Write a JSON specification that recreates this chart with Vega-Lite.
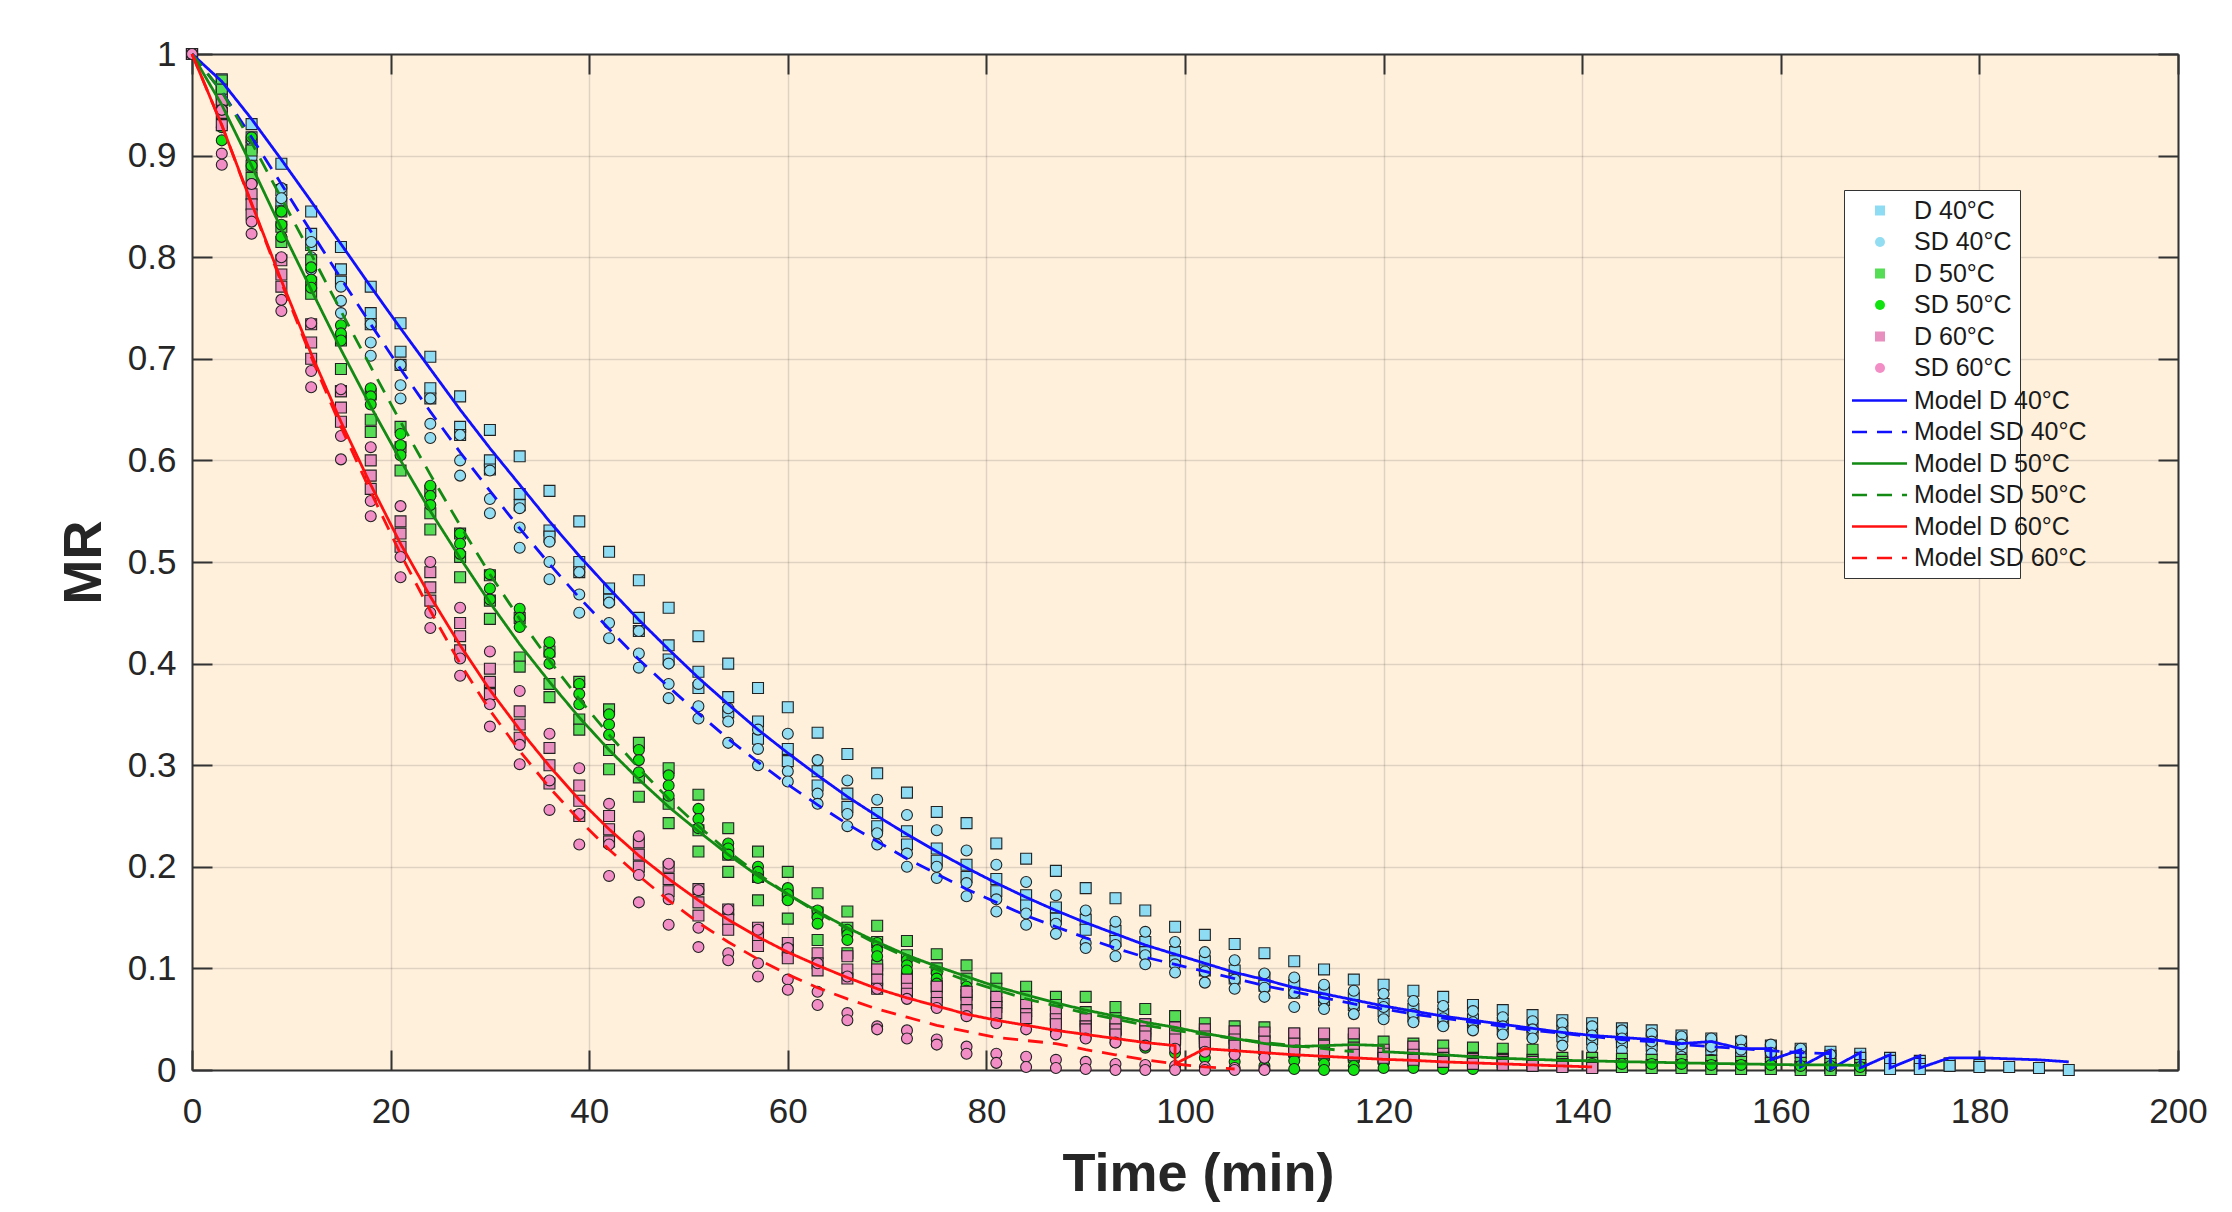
{
"$schema": "https://vega.github.io/schema/vega-lite/v6.json",
"width": 1986, "height": 1016,
"autosize": {"type": "none"},
"padding": {"left": 192, "top": 54, "right": 54, "bottom": 142},
"background": "#ffffff",
"config": {
  "view": {"fill": "#FEF0DB", "stroke": null},
  "axis": {"domainColor": "#333333", "domainWidth": 2, "tickColor": "#333333", "tickWidth": 2, "tickSize": -20,
    "labelFont": "Liberation Sans", "labelFontSize": 35, "labelColor": "#262626",
    "titleFont": "Liberation Sans", "titleFontSize": 54, "titleFontWeight": "bold", "titleColor": "#262626",
    "gridColor": "#000000", "gridOpacity": 0.12, "gridWidth": 1.5, "labelFlush": false, "labelOverlap": false},
  "axisX": {"labelPadding": 44, "titlePadding": 18},
  "axisY": {"labelPadding": 36, "titlePadding": 16}
},
"datasets": {
"pts": [
{"s":"D 40°C","t":0,"a":1,"b":1,"c":1},{"s":"D 40°C","t":3,"a":0.975,"b":0.968,"c":0.962},{"s":"D 40°C","t":6,"a":0.931,"b":0.918,"c":0.908},{"s":"D 40°C","t":9,"a":0.892,"b":0.866,"c":0.853},{"s":"D 40°C","t":12,"a":0.845,"b":0.823,"c":0.812},{"s":"D 40°C","t":15,"a":0.81,"b":0.788,"c":0.776},{"s":"D 40°C","t":18,"a":0.771,"b":0.745,"c":0.734},{"s":"D 40°C","t":21,"a":0.735,"b":0.707,"c":0.694},{"s":"D 40°C","t":24,"a":0.702,"b":0.671,"c":0.661},{"s":"D 40°C","t":27,"a":0.663,"b":0.633,"c":0.625},{"s":"D 40°C","t":30,"a":0.63,"b":0.6,"c":0.591},{"s":"D 40°C","t":33,"a":0.604,"b":0.567,"c":0.556},{"s":"D 40°C","t":36,"a":0.57,"b":0.531,"c":0.525},{"s":"D 40°C","t":39,"a":0.54,"b":0.5,"c":0.49},{"s":"D 40°C","t":42,"a":0.51,"b":0.474,"c":0.463},{"s":"D 40°C","t":45,"a":0.482,"b":0.445,"c":0.432},{"s":"D 40°C","t":48,"a":0.455,"b":0.418,"c":0.404},{"s":"D 40°C","t":51,"a":0.427,"b":0.392,"c":0.376},{"s":"D 40°C","t":54,"a":0.4,"b":0.367,"c":0.352},{"s":"D 40°C","t":57,"a":0.376,"b":0.343,"c":0.326},{"s":"D 40°C","t":60,"a":0.357,"b":0.316,"c":0.304},{"s":"D 40°C","t":63,"a":0.332,"b":0.294,"c":0.28},{"s":"D 40°C","t":66,"a":0.311,"b":0.272,"c":0.259},{"s":"D 40°C","t":69,"a":0.292,"b":0.253,"c":0.24},{"s":"D 40°C","t":72,"a":0.273,"b":0.235,"c":0.222},{"s":"D 40°C","t":75,"a":0.254,"b":0.218,"c":0.206},{"s":"D 40°C","t":78,"a":0.243,"b":0.202,"c":0.19},{"s":"D 40°C","t":81,"a":0.223,"b":0.188,"c":0.176},{"s":"D 40°C","t":84,"a":0.208,"b":0.172,"c":0.162},{"s":"D 40°C","t":87,"a":0.196,"b":0.16,"c":0.149},{"s":"D 40°C","t":90,"a":0.179,"b":0.148,"c":0.138},{"s":"D 40°C","t":93,"a":0.169,"b":0.137,"c":0.127},{"s":"D 40°C","t":96,"a":0.157,"b":0.126,"c":0.116},{"s":"D 40°C","t":99,"a":0.141,"b":0.116,"c":0.107},{"s":"D 40°C","t":102,"a":0.133,"b":0.107,"c":0.098},{"s":"D 40°C","t":105,"a":0.124,"b":0.098,"c":0.09},{"s":"D 40°C","t":108,"a":0.115,"b":0.091,"c":0.083},{"s":"D 40°C","t":111,"a":0.107,"b":0.084,"c":0.076},{"s":"D 40°C","t":114,"a":0.099,"b":0.077,"c":0.069},{"s":"D 40°C","t":117,"a":0.089,"b":0.071,"c":0.064},{"s":"D 40°C","t":120,"a":0.084,"b":0.065,"c":0.058},{"s":"D 40°C","t":123,"a":0.078,"b":0.06,"c":0.053},{"s":"D 40°C","t":126,"a":0.072,"b":0.055,"c":0.048},{"s":"D 40°C","t":129,"a":0.064,"b":0.05,"c":0.044},{"s":"D 40°C","t":132,"a":0.059,"b":0.046,"c":0.04},{"s":"D 40°C","t":135,"a":0.054,"b":0.042,"c":0.036},{"s":"D 40°C","t":138,"a":0.049,"b":0.038,"c":0.033},{"s":"D 40°C","t":141,"a":0.046,"b":0.035,"c":0.03},{"s":"D 40°C","t":144,"a":0.041,"b":0.032,"c":0.027},{"s":"D 40°C","t":147,"a":0.039,"b":0.029,"c":0.024},{"s":"D 40°C","t":150,"a":0.034,"b":0.027,"c":0.022},{"s":"D 40°C","t":153,"a":0.031,"b":0.024,"c":0.02},{"s":"D 40°C","t":156,"a":0.028,"b":0.022,"c":0.018},{"s":"D 40°C","t":159,"a":0.024,"b":0.02,"c":0.016},{"s":"D 40°C","t":162,"a":0.021,"b":0.017,"c":0.004},{"s":"D 40°C","t":165,"a":0.018,"b":0.014,"c":0.002},{"s":"D 40°C","t":168,"a":0.016,"b":0.012,"c":0.002},{"s":"D 40°C","t":171,"a":0.012,"b":0.009,"c":0.001},{"s":"D 40°C","t":174,"a":0.009,"b":0.006,"c":0.001},{"s":"D 40°C","t":177,"a":0.0065,"b":0.004},{"s":"D 40°C","t":180,"a":0.005,"b":0.003},{"s":"D 40°C","t":183,"a":0.003},{"s":"D 40°C","t":186,"a":0.002},{"s":"D 40°C","t":189,"a":0},
{"s":"SD 40°C","t":0,"a":1,"b":1,"c":1},{"s":"SD 40°C","t":3,"a":0.965,"b":0.958,"c":0.95},{"s":"SD 40°C","t":6,"a":0.915,"b":0.907,"c":0.898},{"s":"SD 40°C","t":9,"a":0.868,"b":0.858,"c":0.846},{"s":"SD 40°C","t":12,"a":0.815,"b":0.8,"c":0.788},{"s":"SD 40°C","t":15,"a":0.771,"b":0.757,"c":0.745},{"s":"SD 40°C","t":18,"a":0.734,"b":0.716,"c":0.703},{"s":"SD 40°C","t":21,"a":0.694,"b":0.674,"c":0.661},{"s":"SD 40°C","t":24,"a":0.661,"b":0.636,"c":0.622},{"s":"SD 40°C","t":27,"a":0.625,"b":0.6,"c":0.585},{"s":"SD 40°C","t":30,"a":0.59,"b":0.562,"c":0.548},{"s":"SD 40°C","t":33,"a":0.553,"b":0.534,"c":0.514},{"s":"SD 40°C","t":36,"a":0.52,"b":0.5,"c":0.483},{"s":"SD 40°C","t":39,"a":0.49,"b":0.468,"c":0.45},{"s":"SD 40°C","t":42,"a":0.46,"b":0.44,"c":0.425},{"s":"SD 40°C","t":45,"a":0.432,"b":0.41,"c":0.396},{"s":"SD 40°C","t":48,"a":0.4,"b":0.38,"c":0.366},{"s":"SD 40°C","t":51,"a":0.38,"b":0.358,"c":0.346},{"s":"SD 40°C","t":54,"a":0.356,"b":0.343,"c":0.322},{"s":"SD 40°C","t":57,"a":0.335,"b":0.316,"c":0.3},{"s":"SD 40°C","t":60,"a":0.331,"b":0.294,"c":0.284},{"s":"SD 40°C","t":63,"a":0.305,"b":0.272,"c":0.262},{"s":"SD 40°C","t":66,"a":0.285,"b":0.252,"c":0.24},{"s":"SD 40°C","t":69,"a":0.266,"b":0.233,"c":0.222},{"s":"SD 40°C","t":72,"a":0.251,"b":0.213,"c":0.2},{"s":"SD 40°C","t":75,"a":0.236,"b":0.2,"c":0.189},{"s":"SD 40°C","t":78,"a":0.216,"b":0.184,"c":0.171},{"s":"SD 40°C","t":81,"a":0.202,"b":0.168,"c":0.156},{"s":"SD 40°C","t":84,"a":0.185,"b":0.154,"c":0.143},{"s":"SD 40°C","t":87,"a":0.172,"b":0.144,"c":0.134},{"s":"SD 40°C","t":90,"a":0.157,"b":0.125,"c":0.12},{"s":"SD 40°C","t":93,"a":0.146,"b":0.123,"c":0.112},{"s":"SD 40°C","t":96,"a":0.136,"b":0.113,"c":0.104},{"s":"SD 40°C","t":99,"a":0.126,"b":0.104,"c":0.096},{"s":"SD 40°C","t":102,"a":0.116,"b":0.097,"c":0.086},{"s":"SD 40°C","t":105,"a":0.108,"b":0.089,"c":0.08},{"s":"SD 40°C","t":108,"a":0.095,"b":0.081,"c":0.072},{"s":"SD 40°C","t":111,"a":0.091,"b":0.076,"c":0.062},{"s":"SD 40°C","t":114,"a":0.084,"b":0.07,"c":0.06},{"s":"SD 40°C","t":117,"a":0.078,"b":0.064,"c":0.055},{"s":"SD 40°C","t":120,"a":0.075,"b":0.062,"c":0.05},{"s":"SD 40°C","t":123,"a":0.068,"b":0.055,"c":0.047},{"s":"SD 40°C","t":126,"a":0.063,"b":0.051,"c":0.043},{"s":"SD 40°C","t":129,"a":0.058,"b":0.047,"c":0.039},{"s":"SD 40°C","t":132,"a":0.052,"b":0.043,"c":0.035},{"s":"SD 40°C","t":135,"a":0.048,"b":0.04,"c":0.031},{"s":"SD 40°C","t":138,"a":0.046,"b":0.037,"c":0.024},{"s":"SD 40°C","t":141,"a":0.043,"b":0.034,"c":0.022},{"s":"SD 40°C","t":144,"a":0.039,"b":0.031,"c":0.019},{"s":"SD 40°C","t":147,"a":0.036,"b":0.028,"c":0.016},{"s":"SD 40°C","t":150,"a":0.033,"b":0.025,"c":0.013},{"s":"SD 40°C","t":153,"a":0.031,"b":0.023,"c":0.01},{"s":"SD 40°C","t":156,"a":0.029,"b":0.02,"c":0.007},{"s":"SD 40°C","t":159,"a":0.025,"b":0.017,"c":0.005},{"s":"SD 40°C","t":162,"a":0.021,"b":0.014,"c":0.003},{"s":"SD 40°C","t":165,"a":0.015,"b":0.006,"c":0},
{"s":"D 50°C","t":0,"a":1,"b":1,"c":1},{"s":"D 50°C","t":3,"a":0.974,"b":0.965,"c":0.955},{"s":"D 50°C","t":6,"a":0.905,"b":0.89,"c":0.878},{"s":"D 50°C","t":9,"a":0.845,"b":0.83,"c":0.815},{"s":"D 50°C","t":12,"a":0.797,"b":0.775,"c":0.764},{"s":"D 50°C","t":15,"a":0.718,"b":0.69,"c":0.668},{"s":"D 50°C","t":18,"a":0.665,"b":0.64,"c":0.628},{"s":"D 50°C","t":21,"a":0.633,"b":0.613,"c":0.59},{"s":"D 50°C","t":24,"a":0.57,"b":0.548,"c":0.532},{"s":"D 50°C","t":27,"a":0.528,"b":0.505,"c":0.485},{"s":"D 50°C","t":30,"a":0.487,"b":0.462,"c":0.444},{"s":"D 50°C","t":33,"a":0.445,"b":0.406,"c":0.397},{"s":"D 50°C","t":36,"a":0.412,"b":0.38,"c":0.367},{"s":"D 50°C","t":39,"a":0.382,"b":0.345,"c":0.335},{"s":"D 50°C","t":42,"a":0.355,"b":0.315,"c":0.296},{"s":"D 50°C","t":45,"a":0.322,"b":0.288,"c":0.269},{"s":"D 50°C","t":48,"a":0.297,"b":0.262,"c":0.243},{"s":"D 50°C","t":51,"a":0.271,"b":0.236,"c":0.215},{"s":"D 50°C","t":54,"a":0.238,"b":0.212,"c":0.195},{"s":"D 50°C","t":57,"a":0.215,"b":0.19,"c":0.167},{"s":"D 50°C","t":60,"a":0.195,"b":0.172,"c":0.149},{"s":"D 50°C","t":63,"a":0.174,"b":0.155,"c":0.128},{"s":"D 50°C","t":66,"a":0.156,"b":0.14,"c":0.115},{"s":"D 50°C","t":69,"a":0.142,"b":0.126,"c":0.103},{"s":"D 50°C","t":72,"a":0.127,"b":0.113,"c":0.092},{"s":"D 50°C","t":75,"a":0.114,"b":0.1,"c":0.083},{"s":"D 50°C","t":78,"a":0.103,"b":0.09,"c":0.074},{"s":"D 50°C","t":81,"a":0.09,"b":0.08,"c":0.066},{"s":"D 50°C","t":84,"a":0.082,"b":0.072,"c":0.058},{"s":"D 50°C","t":87,"a":0.072,"b":0.064,"c":0.05},{"s":"D 50°C","t":90,"a":0.072,"b":0.057,"c":0.045},{"s":"D 50°C","t":93,"a":0.062,"b":0.051,"c":0.04},{"s":"D 50°C","t":96,"a":0.06,"b":0.045,"c":0.036},{"s":"D 50°C","t":99,"a":0.053,"b":0.04,"c":0.032},{"s":"D 50°C","t":102,"a":0.046,"b":0.036,"c":0.028},{"s":"D 50°C","t":105,"a":0.043,"b":0.032,"c":0.024},{"s":"D 50°C","t":108,"a":0.042,"b":0.029,"c":0.021},{"s":"D 50°C","t":111,"a":0.036,"b":0.025,"c":0.018},{"s":"D 50°C","t":114,"a":0.034,"b":0.022,"c":0.015},{"s":"D 50°C","t":117,"a":0.03,"b":0.019,"c":0.013},{"s":"D 50°C","t":120,"a":0.028,"b":0.017,"c":0.011},{"s":"D 50°C","t":123,"a":0.026,"b":0.015,"c":0.009},{"s":"D 50°C","t":126,"a":0.024,"b":0.013,"c":0.008},{"s":"D 50°C","t":129,"a":0.022,"b":0.012,"c":0.007},{"s":"D 50°C","t":132,"a":0.021,"b":0.011,"c":0.006},{"s":"D 50°C","t":135,"a":0.02,"b":0.01,"c":0.005},{"s":"D 50°C","t":138,"a":0.012,"b":0.008,"c":0.004},{"s":"D 50°C","t":141,"a":0.012,"b":0.007,"c":0.003},{"s":"D 50°C","t":144,"a":0.011,"b":0.006,"c":0.003},{"s":"D 50°C","t":147,"a":0.01,"b":0.005,"c":0.002},{"s":"D 50°C","t":150,"a":0.01,"b":0.005,"c":0.002},{"s":"D 50°C","t":153,"a":0.009,"b":0.004,"c":0.001},{"s":"D 50°C","t":156,"a":0.008,"b":0.004,"c":0.001},{"s":"D 50°C","t":159,"a":0.007,"b":0.003,"c":0.001},{"s":"D 50°C","t":162,"a":0.007,"b":0.003,"c":0},{"s":"D 50°C","t":165,"a":0.006,"b":0.002,"c":0},{"s":"D 50°C","t":168,"a":0.005,"b":0.002,"c":0},
{"s":"SD 50°C","t":0,"a":1,"b":1,"c":1},{"s":"SD 50°C","t":3,"a":0.945,"b":0.928,"c":0.915},{"s":"SD 50°C","t":6,"a":0.918,"b":0.89,"c":0.872},{"s":"SD 50°C","t":9,"a":0.845,"b":0.832,"c":0.82},{"s":"SD 50°C","t":12,"a":0.79,"b":0.778,"c":0.77},{"s":"SD 50°C","t":15,"a":0.733,"b":0.725,"c":0.718},{"s":"SD 50°C","t":18,"a":0.671,"b":0.663,"c":0.655},{"s":"SD 50°C","t":21,"a":0.626,"b":0.615,"c":0.605},{"s":"SD 50°C","t":24,"a":0.575,"b":0.565,"c":0.556},{"s":"SD 50°C","t":27,"a":0.528,"b":0.518,"c":0.508},{"s":"SD 50°C","t":30,"a":0.488,"b":0.474,"c":0.463},{"s":"SD 50°C","t":33,"a":0.454,"b":0.445,"c":0.436},{"s":"SD 50°C","t":36,"a":0.421,"b":0.41,"c":0.4},{"s":"SD 50°C","t":39,"a":0.38,"b":0.37,"c":0.36},{"s":"SD 50°C","t":42,"a":0.35,"b":0.34,"c":0.33},{"s":"SD 50°C","t":45,"a":0.315,"b":0.305,"c":0.293},{"s":"SD 50°C","t":48,"a":0.29,"b":0.28,"c":0.27},{"s":"SD 50°C","t":51,"a":0.257,"b":0.247,"c":0.238},{"s":"SD 50°C","t":54,"a":0.223,"b":0.218,"c":0.212},{"s":"SD 50°C","t":57,"a":0.2,"b":0.195,"c":0.189},{"s":"SD 50°C","t":60,"a":0.179,"b":0.173,"c":0.167},{"s":"SD 50°C","t":63,"a":0.157,"b":0.15,"c":0.144},{"s":"SD 50°C","t":66,"a":0.138,"b":0.133,"c":0.128},{"s":"SD 50°C","t":69,"a":0.125,"b":0.118,"c":0.112},{"s":"SD 50°C","t":72,"a":0.108,"b":0.103,"c":0.098},{"s":"SD 50°C","t":75,"a":0.095,"b":0.09,"c":0.085},{"s":"SD 50°C","t":78,"a":0.082,"b":0.078,"c":0.073},{"s":"SD 50°C","t":81,"a":0.072,"b":0.068,"c":0.064},{"s":"SD 50°C","t":84,"a":0.064,"b":0.058,"c":0.053},{"s":"SD 50°C","t":87,"a":0.055,"b":0.05,"c":0.038},{"s":"SD 50°C","t":90,"a":0.048,"b":0.043,"c":0.032},{"s":"SD 50°C","t":93,"a":0.042,"b":0.036,"c":0.027},{"s":"SD 50°C","t":96,"a":0.036,"b":0.03,"c":0.022},{"s":"SD 50°C","t":99,"a":0.031,"b":0.025,"c":0.017},{"s":"SD 50°C","t":102,"a":0.026,"b":0.02,"c":0.012},{"s":"SD 50°C","t":105,"a":0.022,"b":0.016,"c":0.008},{"s":"SD 50°C","t":108,"a":0.018,"b":0.012,"c":0.004},{"s":"SD 50°C","t":111,"a":0.015,"b":0.009,"c":0.001},{"s":"SD 50°C","t":114,"a":0.012,"b":0.006,"c":0},{"s":"SD 50°C","t":117,"a":0.01,"b":0.004,"c":0},{"s":"SD 50°C","t":120,"a":0.008,"b":0.002},{"s":"SD 50°C","t":123,"a":0.007,"b":0.002},{"s":"SD 50°C","t":126,"a":0.007,"b":0.001},{"s":"SD 50°C","t":129,"a":0.006,"b":0.001},{"s":"SD 50°C","t":132,"a":0.006},{"s":"SD 50°C","t":135,"a":0.006},{"s":"SD 50°C","t":138,"a":0.006},{"s":"SD 50°C","t":141,"a":0.006},{"s":"SD 50°C","t":144,"a":0.006},{"s":"SD 50°C","t":147,"a":0.006},{"s":"SD 50°C","t":150,"a":0.006},{"s":"SD 50°C","t":153,"a":0.005},{"s":"SD 50°C","t":156,"a":0.005},{"s":"SD 50°C","t":159,"a":0.005},{"s":"SD 50°C","t":162,"a":0.004},{"s":"SD 50°C","t":165,"a":0.004},{"s":"SD 50°C","t":168,"a":0.003},
{"s":"D 60°C","t":0,"a":1,"b":1,"c":1},{"s":"D 60°C","t":3,"a":0.955,"b":0.942,"c":0.93},{"s":"D 60°C","t":6,"a":0.862,"b":0.852,"c":0.842},{"s":"D 60°C","t":9,"a":0.797,"b":0.783,"c":0.771},{"s":"D 60°C","t":12,"a":0.734,"b":0.716,"c":0.7},{"s":"D 60°C","t":15,"a":0.668,"b":0.652,"c":0.638},{"s":"D 60°C","t":18,"a":0.6,"b":0.585,"c":0.572},{"s":"D 60°C","t":21,"a":0.54,"b":0.528,"c":0.515},{"s":"D 60°C","t":24,"a":0.49,"b":0.475,"c":0.462},{"s":"D 60°C","t":27,"a":0.44,"b":0.427,"c":0.413},{"s":"D 60°C","t":30,"a":0.395,"b":0.382,"c":0.37},{"s":"D 60°C","t":33,"a":0.353,"b":0.34,"c":0.327},{"s":"D 60°C","t":36,"a":0.317,"b":0.3,"c":0.282},{"s":"D 60°C","t":39,"a":0.28,"b":0.265,"c":0.25},{"s":"D 60°C","t":42,"a":0.25,"b":0.237,"c":0.225},{"s":"D 60°C","t":45,"a":0.224,"b":0.212,"c":0.2},{"s":"D 60°C","t":48,"a":0.2,"b":0.188,"c":0.176},{"s":"D 60°C","t":51,"a":0.178,"b":0.165,"c":0.152},{"s":"D 60°C","t":54,"a":0.158,"b":0.148,"c":0.138},{"s":"D 60°C","t":57,"a":0.14,"b":0.131,"c":0.122},{"s":"D 60°C","t":60,"a":0.125,"b":0.118,"c":0.11},{"s":"D 60°C","t":63,"a":0.115,"b":0.105,"c":0.098},{"s":"D 60°C","t":66,"a":0.112,"b":0.099,"c":0.09},{"s":"D 60°C","t":69,"a":0.099,"b":0.089,"c":0.08},{"s":"D 60°C","t":72,"a":0.089,"b":0.08,"c":0.075},{"s":"D 60°C","t":75,"a":0.082,"b":0.072,"c":0.066},{"s":"D 60°C","t":78,"a":0.077,"b":0.066,"c":0.059},{"s":"D 60°C","t":81,"a":0.072,"b":0.062,"c":0.056},{"s":"D 60°C","t":84,"a":0.064,"b":0.055,"c":0.051},{"s":"D 60°C","t":87,"a":0.058,"b":0.05,"c":0.045},{"s":"D 60°C","t":90,"a":0.05,"b":0.043,"c":0.04},{"s":"D 60°C","t":93,"a":0.048,"b":0.04,"c":0.035},{"s":"D 60°C","t":96,"a":0.045,"b":0.038,"c":0.033},{"s":"D 60°C","t":99,"a":0.042,"b":0.036,"c":0.03},{"s":"D 60°C","t":102,"a":0.04,"b":0.033,"c":0.027},{"s":"D 60°C","t":105,"a":0.038,"b":0.03,"c":0.024},{"s":"D 60°C","t":108,"a":0.037,"b":0.028,"c":0.021},{"s":"D 60°C","t":111,"a":0.036,"b":0.026,"c":0.019},{"s":"D 60°C","t":114,"a":0.036,"b":0.024,"c":0.017},{"s":"D 60°C","t":117,"a":0.036,"b":0.022,"c":0.015},{"s":"D 60°C","t":120,"a":0.02,"b":0.016,"c":0.012},{"s":"D 60°C","t":123,"a":0.023,"b":0.015,"c":0.01},{"s":"D 60°C","t":126,"a":0.016,"b":0.012,"c":0.008},{"s":"D 60°C","t":129,"a":0.011,"b":0.009,"c":0.006},{"s":"D 60°C","t":132,"a":0.01,"b":0.008,"c":0.005},{"s":"D 60°C","t":135,"a":0.008,"b":0.006,"c":0.004},{"s":"D 60°C","t":138,"a":0.006,"b":0.005,"c":0.003},{"s":"D 60°C","t":141,"a":0.004,"b":0.003,"c":0.002},
{"s":"SD 60°C","t":0,"a":1,"b":1,"c":1},{"s":"SD 60°C","t":3,"a":0.945,"b":0.902,"c":0.891},{"s":"SD 60°C","t":6,"a":0.872,"b":0.835,"c":0.823},{"s":"SD 60°C","t":9,"a":0.8,"b":0.758,"c":0.747},{"s":"SD 60°C","t":12,"a":0.735,"b":0.688,"c":0.672},{"s":"SD 60°C","t":15,"a":0.67,"b":0.624,"c":0.601},{"s":"SD 60°C","t":18,"a":0.613,"b":0.56,"c":0.545},{"s":"SD 60°C","t":21,"a":0.555,"b":0.505,"c":0.485},{"s":"SD 60°C","t":24,"a":0.5,"b":0.45,"c":0.435},{"s":"SD 60°C","t":27,"a":0.455,"b":0.405,"c":0.388},{"s":"SD 60°C","t":30,"a":0.412,"b":0.36,"c":0.338},{"s":"SD 60°C","t":33,"a":0.373,"b":0.32,"c":0.301},{"s":"SD 60°C","t":36,"a":0.331,"b":0.285,"c":0.256},{"s":"SD 60°C","t":39,"a":0.297,"b":0.252,"c":0.222},{"s":"SD 60°C","t":42,"a":0.262,"b":0.222,"c":0.191},{"s":"SD 60°C","t":45,"a":0.23,"b":0.192,"c":0.165},{"s":"SD 60°C","t":48,"a":0.203,"b":0.168,"c":0.143},{"s":"SD 60°C","t":51,"a":0.177,"b":0.14,"c":0.121},{"s":"SD 60°C","t":54,"a":0.158,"b":0.115,"c":0.108},{"s":"SD 60°C","t":57,"a":0.138,"b":0.105,"c":0.092},{"s":"SD 60°C","t":60,"a":0.12,"b":0.089,"c":0.079},{"s":"SD 60°C","t":63,"a":0.105,"b":0.077,"c":0.064},{"s":"SD 60°C","t":66,"a":0.092,"b":0.056,"c":0.049},{"s":"SD 60°C","t":69,"a":0.08,"b":0.043,"c":0.04},{"s":"SD 60°C","t":72,"a":0.07,"b":0.039,"c":0.031},{"s":"SD 60°C","t":75,"a":0.061,"b":0.03,"c":0.025},{"s":"SD 60°C","t":78,"a":0.053,"b":0.023,"c":0.016},{"s":"SD 60°C","t":81,"a":0.046,"b":0.016,"c":0.007},{"s":"SD 60°C","t":84,"a":0.04,"b":0.013,"c":0.003},{"s":"SD 60°C","t":87,"a":0.035,"b":0.01,"c":0.002},{"s":"SD 60°C","t":90,"a":0.031,"b":0.008,"c":0.001},{"s":"SD 60°C","t":93,"a":0.027,"b":0.006,"c":0},{"s":"SD 60°C","t":96,"a":0.024,"b":0.005,"c":0},{"s":"SD 60°C","t":99,"a":0.021,"b":0.004,"c":0},{"s":"SD 60°C","t":102,"a":0.018,"b":0.003,"c":0},{"s":"SD 60°C","t":105,"a":0.015,"b":0.002,"c":0},{"s":"SD 60°C","t":108,"a":0.012,"b":0.001,"c":0}
],
"mdl": [
{"s":"Model D 40°C","t":0,"v":1},{"s":"Model D 40°C","t":3,"v":0.973},{"s":"Model D 40°C","t":6,"v":0.936},{"s":"Model D 40°C","t":9,"v":0.896},{"s":"Model D 40°C","t":12,"v":0.855},{"s":"Model D 40°C","t":15,"v":0.813},{"s":"Model D 40°C","t":18,"v":0.771},{"s":"Model D 40°C","t":21,"v":0.73},{"s":"Model D 40°C","t":24,"v":0.69},{"s":"Model D 40°C","t":27,"v":0.65},{"s":"Model D 40°C","t":30,"v":0.612},{"s":"Model D 40°C","t":33,"v":0.576},{"s":"Model D 40°C","t":36,"v":0.54},{"s":"Model D 40°C","t":39,"v":0.506},{"s":"Model D 40°C","t":42,"v":0.474},{"s":"Model D 40°C","t":45,"v":0.443},{"s":"Model D 40°C","t":48,"v":0.414},{"s":"Model D 40°C","t":51,"v":0.386},{"s":"Model D 40°C","t":54,"v":0.36},{"s":"Model D 40°C","t":57,"v":0.335},{"s":"Model D 40°C","t":60,"v":0.312},{"s":"Model D 40°C","t":63,"v":0.29},{"s":"Model D 40°C","t":66,"v":0.269},{"s":"Model D 40°C","t":69,"v":0.25},{"s":"Model D 40°C","t":72,"v":0.232},{"s":"Model D 40°C","t":75,"v":0.215},{"s":"Model D 40°C","t":78,"v":0.199},{"s":"Model D 40°C","t":81,"v":0.184},{"s":"Model D 40°C","t":84,"v":0.17},{"s":"Model D 40°C","t":87,"v":0.157},{"s":"Model D 40°C","t":90,"v":0.145},{"s":"Model D 40°C","t":93,"v":0.134},{"s":"Model D 40°C","t":96,"v":0.123},{"s":"Model D 40°C","t":99,"v":0.114},{"s":"Model D 40°C","t":102,"v":0.105},{"s":"Model D 40°C","t":105,"v":0.096},{"s":"Model D 40°C","t":108,"v":0.089},{"s":"Model D 40°C","t":111,"v":0.081},{"s":"Model D 40°C","t":114,"v":0.075},{"s":"Model D 40°C","t":117,"v":0.069},{"s":"Model D 40°C","t":120,"v":0.063},{"s":"Model D 40°C","t":123,"v":0.058},{"s":"Model D 40°C","t":126,"v":0.053},{"s":"Model D 40°C","t":129,"v":0.049},{"s":"Model D 40°C","t":132,"v":0.045},{"s":"Model D 40°C","t":135,"v":0.041},{"s":"Model D 40°C","t":138,"v":0.037},{"s":"Model D 40°C","t":141,"v":0.034},{"s":"Model D 40°C","t":144,"v":0.032},{"s":"Model D 40°C","t":147,"v":0.03},{"s":"Model D 40°C","t":150,"v":0.026},{"s":"Model D 40°C","t":153,"v":0.028},{"s":"Model D 40°C","t":156,"v":0.021},{"s":"Model D 40°C","t":159,"v":0.021},{"s":"Model D 40°C","t":159,"v":0.01},{"s":"Model D 40°C","t":162,"v":0.02},{"s":"Model D 40°C","t":162,"v":0.003},{"s":"Model D 40°C","t":165,"v":0.019},{"s":"Model D 40°C","t":165,"v":0.001},{"s":"Model D 40°C","t":168,"v":0.017},{"s":"Model D 40°C","t":168,"v":0.002},{"s":"Model D 40°C","t":171,"v":0.015},{"s":"Model D 40°C","t":171,"v":0.002},{"s":"Model D 40°C","t":174,"v":0.014},{"s":"Model D 40°C","t":174,"v":0.002},{"s":"Model D 40°C","t":177,"v":0.012},{"s":"Model D 40°C","t":180,"v":0.012},{"s":"Model D 40°C","t":183,"v":0.011},{"s":"Model D 40°C","t":186,"v":0.01},{"s":"Model D 40°C","t":189,"v":0.008},
{"s":"Model SD 40°C","t":0,"v":1},{"s":"Model SD 40°C","t":3,"v":0.963},{"s":"Model SD 40°C","t":6,"v":0.918},{"s":"Model SD 40°C","t":9,"v":0.872},{"s":"Model SD 40°C","t":12,"v":0.825},{"s":"Model SD 40°C","t":15,"v":0.779},{"s":"Model SD 40°C","t":18,"v":0.734},{"s":"Model SD 40°C","t":21,"v":0.69},{"s":"Model SD 40°C","t":24,"v":0.648},{"s":"Model SD 40°C","t":27,"v":0.608},{"s":"Model SD 40°C","t":30,"v":0.57},{"s":"Model SD 40°C","t":33,"v":0.533},{"s":"Model SD 40°C","t":36,"v":0.498},{"s":"Model SD 40°C","t":39,"v":0.465},{"s":"Model SD 40°C","t":42,"v":0.434},{"s":"Model SD 40°C","t":45,"v":0.404},{"s":"Model SD 40°C","t":48,"v":0.377},{"s":"Model SD 40°C","t":51,"v":0.351},{"s":"Model SD 40°C","t":54,"v":0.326},{"s":"Model SD 40°C","t":57,"v":0.303},{"s":"Model SD 40°C","t":60,"v":0.281},{"s":"Model SD 40°C","t":63,"v":0.261},{"s":"Model SD 40°C","t":66,"v":0.242},{"s":"Model SD 40°C","t":69,"v":0.225},{"s":"Model SD 40°C","t":72,"v":0.208},{"s":"Model SD 40°C","t":75,"v":0.193},{"s":"Model SD 40°C","t":78,"v":0.178},{"s":"Model SD 40°C","t":81,"v":0.165},{"s":"Model SD 40°C","t":84,"v":0.152},{"s":"Model SD 40°C","t":87,"v":0.141},{"s":"Model SD 40°C","t":90,"v":0.13},{"s":"Model SD 40°C","t":93,"v":0.12},{"s":"Model SD 40°C","t":96,"v":0.111},{"s":"Model SD 40°C","t":99,"v":0.104},{"s":"Model SD 40°C","t":102,"v":0.097},{"s":"Model SD 40°C","t":105,"v":0.09},{"s":"Model SD 40°C","t":108,"v":0.083},{"s":"Model SD 40°C","t":111,"v":0.077},{"s":"Model SD 40°C","t":114,"v":0.071},{"s":"Model SD 40°C","t":117,"v":0.065},{"s":"Model SD 40°C","t":120,"v":0.06},{"s":"Model SD 40°C","t":123,"v":0.055},{"s":"Model SD 40°C","t":126,"v":0.051},{"s":"Model SD 40°C","t":129,"v":0.047},{"s":"Model SD 40°C","t":132,"v":0.043},{"s":"Model SD 40°C","t":135,"v":0.039},{"s":"Model SD 40°C","t":138,"v":0.036},{"s":"Model SD 40°C","t":141,"v":0.033},{"s":"Model SD 40°C","t":144,"v":0.03},{"s":"Model SD 40°C","t":147,"v":0.028},{"s":"Model SD 40°C","t":150,"v":0.025},{"s":"Model SD 40°C","t":153,"v":0.023},{"s":"Model SD 40°C","t":156,"v":0.021},{"s":"Model SD 40°C","t":159,"v":0.019},{"s":"Model SD 40°C","t":162,"v":0.017},{"s":"Model SD 40°C","t":165,"v":0.016},
{"s":"Model D 50°C","t":0,"v":1},{"s":"Model D 50°C","t":3,"v":0.95},{"s":"Model D 50°C","t":6,"v":0.89},{"s":"Model D 50°C","t":9,"v":0.828},{"s":"Model D 50°C","t":12,"v":0.768},{"s":"Model D 50°C","t":15,"v":0.709},{"s":"Model D 50°C","t":18,"v":0.653},{"s":"Model D 50°C","t":21,"v":0.6},{"s":"Model D 50°C","t":24,"v":0.55},{"s":"Model D 50°C","t":27,"v":0.504},{"s":"Model D 50°C","t":30,"v":0.46},{"s":"Model D 50°C","t":33,"v":0.419},{"s":"Model D 50°C","t":36,"v":0.382},{"s":"Model D 50°C","t":39,"v":0.347},{"s":"Model D 50°C","t":42,"v":0.315},{"s":"Model D 50°C","t":45,"v":0.286},{"s":"Model D 50°C","t":48,"v":0.259},{"s":"Model D 50°C","t":51,"v":0.235},{"s":"Model D 50°C","t":54,"v":0.212},{"s":"Model D 50°C","t":57,"v":0.191},{"s":"Model D 50°C","t":60,"v":0.173},{"s":"Model D 50°C","t":63,"v":0.156},{"s":"Model D 50°C","t":66,"v":0.14},{"s":"Model D 50°C","t":69,"v":0.126},{"s":"Model D 50°C","t":72,"v":0.113},{"s":"Model D 50°C","t":75,"v":0.102},{"s":"Model D 50°C","t":78,"v":0.092},{"s":"Model D 50°C","t":81,"v":0.082},{"s":"Model D 50°C","t":84,"v":0.074},{"s":"Model D 50°C","t":87,"v":0.066},{"s":"Model D 50°C","t":90,"v":0.059},{"s":"Model D 50°C","t":93,"v":0.053},{"s":"Model D 50°C","t":96,"v":0.047},{"s":"Model D 50°C","t":99,"v":0.042},{"s":"Model D 50°C","t":102,"v":0.036},{"s":"Model D 50°C","t":105,"v":0.031},{"s":"Model D 50°C","t":108,"v":0.026},{"s":"Model D 50°C","t":111,"v":0.023},{"s":"Model D 50°C","t":114,"v":0.024},{"s":"Model D 50°C","t":117,"v":0.025},{"s":"Model D 50°C","t":120,"v":0.024},{"s":"Model D 50°C","t":120,"v":0.018},{"s":"Model D 50°C","t":123,"v":0.0165},{"s":"Model D 50°C","t":126,"v":0.015},{"s":"Model D 50°C","t":129,"v":0.013},{"s":"Model D 50°C","t":132,"v":0.0115},{"s":"Model D 50°C","t":135,"v":0.0105},{"s":"Model D 50°C","t":138,"v":0.0095},{"s":"Model D 50°C","t":141,"v":0.009},{"s":"Model D 50°C","t":144,"v":0.0082},{"s":"Model D 50°C","t":147,"v":0.0077},{"s":"Model D 50°C","t":150,"v":0.007},{"s":"Model D 50°C","t":153,"v":0.0065},{"s":"Model D 50°C","t":156,"v":0.006},{"s":"Model D 50°C","t":159,"v":0.0055},{"s":"Model D 50°C","t":162,"v":0.005},{"s":"Model D 50°C","t":165,"v":0.005},{"s":"Model D 50°C","t":168,"v":0.0045},
{"s":"Model SD 50°C","t":0,"v":1},{"s":"Model SD 50°C","t":3,"v":0.963},{"s":"Model SD 50°C","t":6,"v":0.913},{"s":"Model SD 50°C","t":9,"v":0.858},{"s":"Model SD 50°C","t":12,"v":0.803},{"s":"Model SD 50°C","t":15,"v":0.747},{"s":"Model SD 50°C","t":18,"v":0.692},{"s":"Model SD 50°C","t":21,"v":0.638},{"s":"Model SD 50°C","t":24,"v":0.586},{"s":"Model SD 50°C","t":27,"v":0.536},{"s":"Model SD 50°C","t":30,"v":0.488},{"s":"Model SD 50°C","t":33,"v":0.444},{"s":"Model SD 50°C","t":36,"v":0.403},{"s":"Model SD 50°C","t":39,"v":0.365},{"s":"Model SD 50°C","t":42,"v":0.33},{"s":"Model SD 50°C","t":45,"v":0.297},{"s":"Model SD 50°C","t":48,"v":0.267},{"s":"Model SD 50°C","t":51,"v":0.24},{"s":"Model SD 50°C","t":54,"v":0.215},{"s":"Model SD 50°C","t":57,"v":0.193},{"s":"Model SD 50°C","t":60,"v":0.173},{"s":"Model SD 50°C","t":63,"v":0.155},{"s":"Model SD 50°C","t":66,"v":0.139},{"s":"Model SD 50°C","t":69,"v":0.124},{"s":"Model SD 50°C","t":72,"v":0.111},{"s":"Model SD 50°C","t":75,"v":0.099},{"s":"Model SD 50°C","t":78,"v":0.088},{"s":"Model SD 50°C","t":81,"v":0.079},{"s":"Model SD 50°C","t":84,"v":0.07},{"s":"Model SD 50°C","t":87,"v":0.063},{"s":"Model SD 50°C","t":90,"v":0.056},{"s":"Model SD 50°C","t":93,"v":0.05},{"s":"Model SD 50°C","t":96,"v":0.044},{"s":"Model SD 50°C","t":99,"v":0.039},{"s":"Model SD 50°C","t":102,"v":0.035},{"s":"Model SD 50°C","t":105,"v":0.031},{"s":"Model SD 50°C","t":108,"v":0.027},{"s":"Model SD 50°C","t":111,"v":0.024},{"s":"Model SD 50°C","t":114,"v":0.021},{"s":"Model SD 50°C","t":117,"v":0.018},
{"s":"Model D 60°C","t":0,"v":1},{"s":"Model D 60°C","t":3,"v":0.93},{"s":"Model D 60°C","t":6,"v":0.853},{"s":"Model D 60°C","t":9,"v":0.777},{"s":"Model D 60°C","t":12,"v":0.705},{"s":"Model D 60°C","t":15,"v":0.638},{"s":"Model D 60°C","t":18,"v":0.576},{"s":"Model D 60°C","t":21,"v":0.518},{"s":"Model D 60°C","t":24,"v":0.466},{"s":"Model D 60°C","t":27,"v":0.418},{"s":"Model D 60°C","t":30,"v":0.374},{"s":"Model D 60°C","t":33,"v":0.335},{"s":"Model D 60°C","t":36,"v":0.299},{"s":"Model D 60°C","t":39,"v":0.266},{"s":"Model D 60°C","t":42,"v":0.237},{"s":"Model D 60°C","t":45,"v":0.211},{"s":"Model D 60°C","t":48,"v":0.188},{"s":"Model D 60°C","t":51,"v":0.167},{"s":"Model D 60°C","t":54,"v":0.148},{"s":"Model D 60°C","t":57,"v":0.131},{"s":"Model D 60°C","t":60,"v":0.116},{"s":"Model D 60°C","t":63,"v":0.103},{"s":"Model D 60°C","t":66,"v":0.091},{"s":"Model D 60°C","t":69,"v":0.08},{"s":"Model D 60°C","t":72,"v":0.071},{"s":"Model D 60°C","t":75,"v":0.063},{"s":"Model D 60°C","t":78,"v":0.055},{"s":"Model D 60°C","t":81,"v":0.049},{"s":"Model D 60°C","t":84,"v":0.044},{"s":"Model D 60°C","t":87,"v":0.039},{"s":"Model D 60°C","t":90,"v":0.035},{"s":"Model D 60°C","t":93,"v":0.031},{"s":"Model D 60°C","t":96,"v":0.027},{"s":"Model D 60°C","t":99,"v":0.024},{"s":"Model D 60°C","t":99,"v":0.006},{"s":"Model D 60°C","t":102,"v":0.021},{"s":"Model D 60°C","t":105,"v":0.019},{"s":"Model D 60°C","t":108,"v":0.017},{"s":"Model D 60°C","t":111,"v":0.015},{"s":"Model D 60°C","t":114,"v":0.0135},{"s":"Model D 60°C","t":117,"v":0.012},{"s":"Model D 60°C","t":120,"v":0.0105},{"s":"Model D 60°C","t":123,"v":0.0095},{"s":"Model D 60°C","t":126,"v":0.008},{"s":"Model D 60°C","t":129,"v":0.007},{"s":"Model D 60°C","t":132,"v":0.006},{"s":"Model D 60°C","t":135,"v":0.005},{"s":"Model D 60°C","t":138,"v":0.004},{"s":"Model D 60°C","t":141,"v":0.003},
{"s":"Model SD 60°C","t":0,"v":1},{"s":"Model SD 60°C","t":3,"v":0.93},{"s":"Model SD 60°C","t":6,"v":0.852},{"s":"Model SD 60°C","t":9,"v":0.775},{"s":"Model SD 60°C","t":12,"v":0.702},{"s":"Model SD 60°C","t":15,"v":0.633},{"s":"Model SD 60°C","t":18,"v":0.569},{"s":"Model SD 60°C","t":21,"v":0.508},{"s":"Model SD 60°C","t":24,"v":0.452},{"s":"Model SD 60°C","t":27,"v":0.4},{"s":"Model SD 60°C","t":30,"v":0.354},{"s":"Model SD 60°C","t":33,"v":0.314},{"s":"Model SD 60°C","t":36,"v":0.278},{"s":"Model SD 60°C","t":39,"v":0.246},{"s":"Model SD 60°C","t":42,"v":0.217},{"s":"Model SD 60°C","t":45,"v":0.191},{"s":"Model SD 60°C","t":48,"v":0.167},{"s":"Model SD 60°C","t":51,"v":0.145},{"s":"Model SD 60°C","t":54,"v":0.126},{"s":"Model SD 60°C","t":57,"v":0.109},{"s":"Model SD 60°C","t":60,"v":0.094},{"s":"Model SD 60°C","t":63,"v":0.081},{"s":"Model SD 60°C","t":66,"v":0.07},{"s":"Model SD 60°C","t":69,"v":0.06},{"s":"Model SD 60°C","t":72,"v":0.052},{"s":"Model SD 60°C","t":75,"v":0.044},{"s":"Model SD 60°C","t":78,"v":0.038},{"s":"Model SD 60°C","t":81,"v":0.032},{"s":"Model SD 60°C","t":84,"v":0.029},{"s":"Model SD 60°C","t":87,"v":0.026},{"s":"Model SD 60°C","t":90,"v":0.02},{"s":"Model SD 60°C","t":93,"v":0.015},{"s":"Model SD 60°C","t":96,"v":0.01},{"s":"Model SD 60°C","t":99,"v":0.006},{"s":"Model SD 60°C","t":102,"v":0.003},{"s":"Model SD 60°C","t":105,"v":0.001}
]
},
"layer": [
{
  "data": {"name": "pts"},
  "transform": [{"fold": ["a", "b", "c"], "as": ["r", "v"]}, {"filter": "isValid(datum.v)"}],
  "mark": {"type": "point", "filled": true, "opacity": 1, "size": 120, "stroke": "#222222", "strokeWidth": 1.1},
  "encoding": {
    "x": {"field": "t", "type": "quantitative", "scale": {"domain": [0, 200], "nice": false, "zero": false},
      "axis": {"orient": "bottom", "values": [0,20,40,60,80,100,120,140,160,180,200], "title": "Time (min)", "titleX": 1006, "grid": true}},
    "y": {"field": "v", "type": "quantitative", "scale": {"domain": [0, 1], "nice": false},
      "axis": {"orient": "left", "values": [0,0.1,0.2,0.3,0.4,0.5,0.6,0.7,0.8,0.9,1], "format": "~g", "title": "MR", "grid": true}},
    "shape": {"field": "s", "type": "nominal",
      "scale": {"domain": ["D 40°C","SD 40°C","D 50°C","SD 50°C","D 60°C","SD 60°C","Model D 40°C","Model SD 40°C","Model D 50°C","Model SD 50°C","Model D 60°C","Model SD 60°C"],
                "range": ["square","circle","square","circle","square","circle","M0,0","M0,0","M0,0","M0,0","M0,0","M0,0"]},
      "legend": {"orient": "none", "legendX": 1652, "legendY": 136, "title": null, "direction": "vertical", "padding": 8, "zindex": 1,
        "fillColor": "#ffffff", "strokeColor": "#333333", "labelFont": "Liberation Sans", "labelFontSize": 25, "labelColor": "#1a1a1a",
        "labelLimit": 400, "labelOffset": 21.5, "symbolOffset": 15.5, "symbolSize": 100, "symbolStrokeColor": "#333333", "symbolStrokeWidth": 1, "rowPadding": 5.5,
        "labelExpr": "indexof(datum.label,'Model')===0 ? '\u00a0\u00a0\u00a0\u00a0\u00a0\u00a0\u00a0\u00a0\u00a0\u00a0\u00a0\u00a0\u00a0\u00a0\u00a0\u00a0\u00a0\u00a0\u00a0\u00a0\u00a0\u00a0\u00a0\u00a0\u00a0' : datum.label",
        "encode": {"symbols": {"stroke": {"value": "#333333"}, "strokeWidth": {"value": 1}}}}},
    "fill": {"field": "s", "type": "nominal",
      "scale": {"domain": ["D 40°C","SD 40°C","D 50°C","SD 50°C","D 60°C","SD 60°C","Model D 40°C","Model SD 40°C","Model D 50°C","Model SD 50°C","Model D 60°C","Model SD 60°C"],
                "range": ["#8EDCF4","#92DDF2","#55DD55","#10E310","#E88FBF","#F28DC5","#ffffff","#ffffff","#ffffff","#ffffff","#ffffff","#ffffff"]},
      "legend": {"orient": "none", "legendX": 1652, "legendY": 136, "title": null, "direction": "vertical", "padding": 8, "zindex": 1,
        "fillColor": "#ffffff", "strokeColor": "#333333", "labelFont": "Liberation Sans", "labelFontSize": 25, "labelColor": "#1a1a1a",
        "labelLimit": 400, "labelOffset": 21.5, "symbolOffset": 15.5, "symbolSize": 100, "symbolStrokeColor": "#333333", "symbolStrokeWidth": 1, "rowPadding": 5.5,
        "labelExpr": "indexof(datum.label,'Model')===0 ? '\u00a0\u00a0\u00a0\u00a0\u00a0\u00a0\u00a0\u00a0\u00a0\u00a0\u00a0\u00a0\u00a0\u00a0\u00a0\u00a0\u00a0\u00a0\u00a0\u00a0\u00a0\u00a0\u00a0\u00a0\u00a0' : datum.label",
        "encode": {"symbols": {"stroke": {"value": "#333333"}, "strokeWidth": {"value": 1}}}}}
  }
},
{
  "data": {"name": "mdl"},
  "mark": {"type": "line", "strokeWidth": 2.8, "strokeCap": "butt"},
  "encoding": {
    "x": {"field": "t", "type": "quantitative",
      "axis": {"orient": "top", "values": [0,20,40,60,80,100,120,140,160,180,200], "labels": false, "title": null, "grid": false}},
    "y": {"field": "v", "type": "quantitative",
      "axis": {"orient": "right", "values": [0,0.1,0.2,0.3,0.4,0.5,0.6,0.7,0.8,0.9,1], "labels": false, "title": null, "grid": false}},
    "stroke": {"field": "s", "type": "nominal",
      "scale": {"domain": ["Model D 40°C","Model SD 40°C","Model D 50°C","Model SD 50°C","Model D 60°C","Model SD 60°C"], "range": ["#1010FF","#1010FF","#138A13","#138A13","#FF1010","#FF1010"]},
      "legend": {"orient": "none", "legendX": 1660, "legendY": 334, "title": null, "direction": "vertical", "padding": 0, "zindex": 2,
        "fillColor": null, "strokeColor": null, "labelFont": "Liberation Sans", "labelFontSize": 25, "labelColor": "#1a1a1a",
        "labelLimit": 400, "labelOffset": 22, "symbolOffset": 15, "symbolSize": 100, "symbolType": "M-5.5,0H5.5", "symbolStrokeWidth": 2.6, "rowPadding": 5.5}},
    "strokeDash": {"field": "s", "type": "nominal",
      "scale": {"domain": ["Model D 40°C","Model SD 40°C","Model D 50°C","Model SD 50°C","Model D 60°C","Model SD 60°C"], "range": [[1,0],[15,10],[1,0],[15,10],[1,0],[15,10]]},
      "legend": {"orient": "none", "legendX": 1660, "legendY": 334, "title": null, "direction": "vertical", "padding": 0, "zindex": 2,
        "fillColor": null, "strokeColor": null, "labelFont": "Liberation Sans", "labelFontSize": 25, "labelColor": "#1a1a1a",
        "labelLimit": 400, "labelOffset": 22, "symbolOffset": 15, "symbolSize": 100, "symbolType": "M-5.5,0H5.5", "symbolStrokeWidth": 2.6, "rowPadding": 5.5}},
    "order": {"value": null}
  }
}
],
"resolve": {"axis": {"x": "independent", "y": "independent"}}
}
